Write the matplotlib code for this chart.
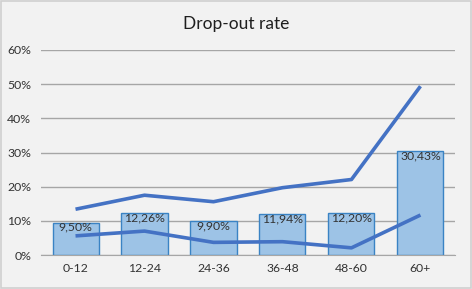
import matplotlib
matplotlib.use("Agg")
import matplotlib.pyplot as plt
from matplotlib.patches import Rectangle

categories = ["0-12", "12-24", "24-36", "36-48", "48-60", "60+"]
rates = [9.50, 12.26, 9.90, 11.94, 12.20, 30.43]
rate_labels = ["9,50%", "12,26%", "9,90%", "11,94%", "12,20%", "30,43%"]
upper = [13.4, 17.5, 15.6, 19.7, 22.1, 49.4]
lower = [5.6, 7.0, 3.7, 3.9, 2.1, 11.7]
yticks = [0, 10, 20, 30, 40, 50, 60]
ytick_labels = ["0%", "10%", "20%", "30%", "40%", "50%", "60%"]

plt.rcParams['font.family'] = ['Lato', 'DejaVu Sans']
fig = plt.figure(figsize=(4.72, 2.89), dpi=100, facecolor="#F2F2F2")
fig.patches.append(Rectangle((0.003, 0.005), 0.994, 0.99, transform=fig.transFigure,
                             fill=False, edgecolor="#D0D0D0", linewidth=1.2))
ax = fig.add_axes([0.0869, 0.1176, 0.877, 0.7094])
ax.set_facecolor("#F2F2F2")

x = list(range(len(categories)))
ax.bar(x, rates, width=0.667, color="#9DC3E6", edgecolor="#3A83C4", linewidth=1.0, zorder=2)
ax.plot(x, upper, color="#4472C4", linewidth=2.6, zorder=3, solid_capstyle="butt")
ax.plot(x, lower, color="#4472C4", linewidth=2.6, zorder=3, solid_capstyle="butt")
for xi, v, lab in zip(x, rates, rate_labels):
    ax.text(xi, v - 1.3, lab, ha="center", va="center", fontsize=8.8, color="#333333", zorder=4)

ax.set_xlim(-0.5, len(categories) - 0.5)
ax.set_ylim(0, 60)
ax.set_yticks(yticks)
ax.set_yticklabels(ytick_labels, fontsize=8.8, color="#333333")
ax.set_xticks(x)
ax.set_xticklabels(categories, fontsize=8.8, color="#333333")
ax.tick_params(axis="y", length=0, pad=7)
ax.tick_params(axis="x", length=0, pad=6)
ax.grid(axis="y", color="#A6A6A6", linewidth=1.0, zorder=0)
ax.set_axisbelow(True)
for s in ["top", "right", "left"]:
    ax.spines[s].set_visible(False)
ax.spines["bottom"].set_color("#A6A6A6")

fig.text(0.5, 0.917, "Drop-out rate", ha="center", va="center", fontsize=12.5, color="#1F1F1F")
fig.savefig("out.png", dpi=100, facecolor=fig.get_facecolor())
